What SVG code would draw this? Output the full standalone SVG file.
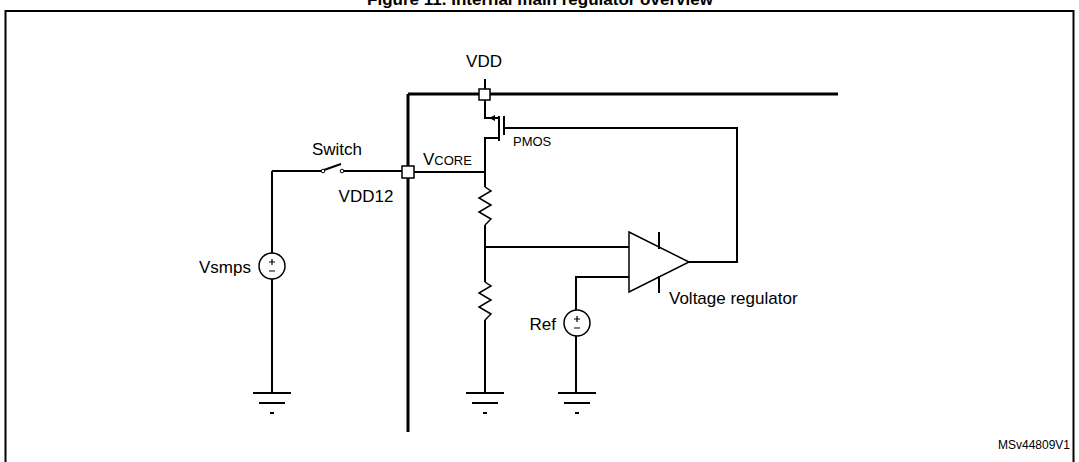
<svg xmlns="http://www.w3.org/2000/svg" width="1079" height="462" viewBox="0 0 1079 462">
<style>
.w{stroke:#000;stroke-width:2;fill:none}
.b{stroke:#000;stroke-width:3;fill:none}
.r{stroke:#000;stroke-width:1.5;fill:none;stroke-linejoin:miter}
.t{font-family:"Liberation Sans",Arial,sans-serif;font-size:17px;fill:#000}
.pad{fill:#fff;stroke:#000;stroke-width:1.5}
</style>
<rect width="1079" height="462" fill="#fff"/>
<text x="540" y="5" text-anchor="middle" class="t" style="font-weight:bold;font-size:17px">Figure 11. Internal main regulator overview</text>
<rect x="5.5" y="11" width="1068" height="460" fill="none" stroke="#000" stroke-width="2"/>
<g id="connectors">
<path class="b" d="M408 94V432M408 94H838"/>
<path class="w" d="M485 79V118H499M499 138H485V187M485 225V282M485 320V393M485 172H408M504 128H737V262H689M485 247H629M629 277H576V393M272 171V393M272 171H323M342 171H403"/>
</g>
<g id="vdd"><rect class="pad" x="479" y="89" width="11" height="11"/><text class="t" x="484" y="67" text-anchor="middle">VDD</text></g>
<g id="pmos">
<path class="w" d="M499 116V141M504 116V135"/>
<path d="M489 118l6-3v6z" fill="#000"/>
<text class="t" x="513" y="146" style="font-size:13px">PMOS</text>
</g>
<g id="vcore"><rect class="pad" x="402" y="166" width="12" height="12"/><text class="t" x="423" y="165">V<tspan style="font-size:13px">CORE</tspan></text></g>
<g id="switch">
<circle cx="323" cy="171" r="1.8" fill="#fff" stroke="#000"/><circle cx="342" cy="171" r="1.8" fill="#fff" stroke="#000"/>
<path class="w" d="M324 170L341 164" stroke-width="1.5"/>
<text class="t" x="337" y="155" text-anchor="middle">Switch</text>
<text class="t" x="366" y="202" text-anchor="middle">VDD12</text>
</g>
<g id="r1"><path class="r" d="M485 187l6 4-12 7 12 7-12 7 12 7-6 6"/></g>
<g id="r2"><path class="r" d="M485 282l6 4-12 7 12 7-12 7 12 7-6 6"/></g>
<g id="amp">
<path d="M629 232L689 262L629 292Z" fill="#fff" stroke="#000" stroke-width="1.5"/>
<path class="w" d="M659 232V249M659 276V293" stroke-width="1.5"/>
<text class="t" x="669" y="304">Voltage regulator</text>
</g>
<g id="vsmps">
<circle cx="272" cy="266" r="13" fill="#fff" stroke="#000" stroke-width="1.5"/>
<path d="M269 262h6M272 259v6M269 271h6" stroke="#000" stroke-width="1.2"/>
<text class="t" x="251" y="273" text-anchor="end">Vsmps</text>
</g>
<g id="ref">
<circle cx="577" cy="323" r="13" fill="#fff" stroke="#000" stroke-width="1.5"/>
<path d="M574 319h6M577 316v6M574 328h6" stroke="#000" stroke-width="1.2"/>
<text class="t" x="556" y="330" text-anchor="end">Ref</text>
</g>
<g id="gnd1"><path class="w" d="M253 393h38M259 403h26M270 413h4"/></g>
<g id="gnd2"><path class="w" d="M466 393h38M472 403h26M483 413h4"/></g>
<g id="gnd3"><path class="w" d="M558 393h38M564 403h26M575 413h4"/></g>
<text class="t" x="1070" y="449" text-anchor="end" style="font-size:12px">MSv44809V1</text>
</svg>
